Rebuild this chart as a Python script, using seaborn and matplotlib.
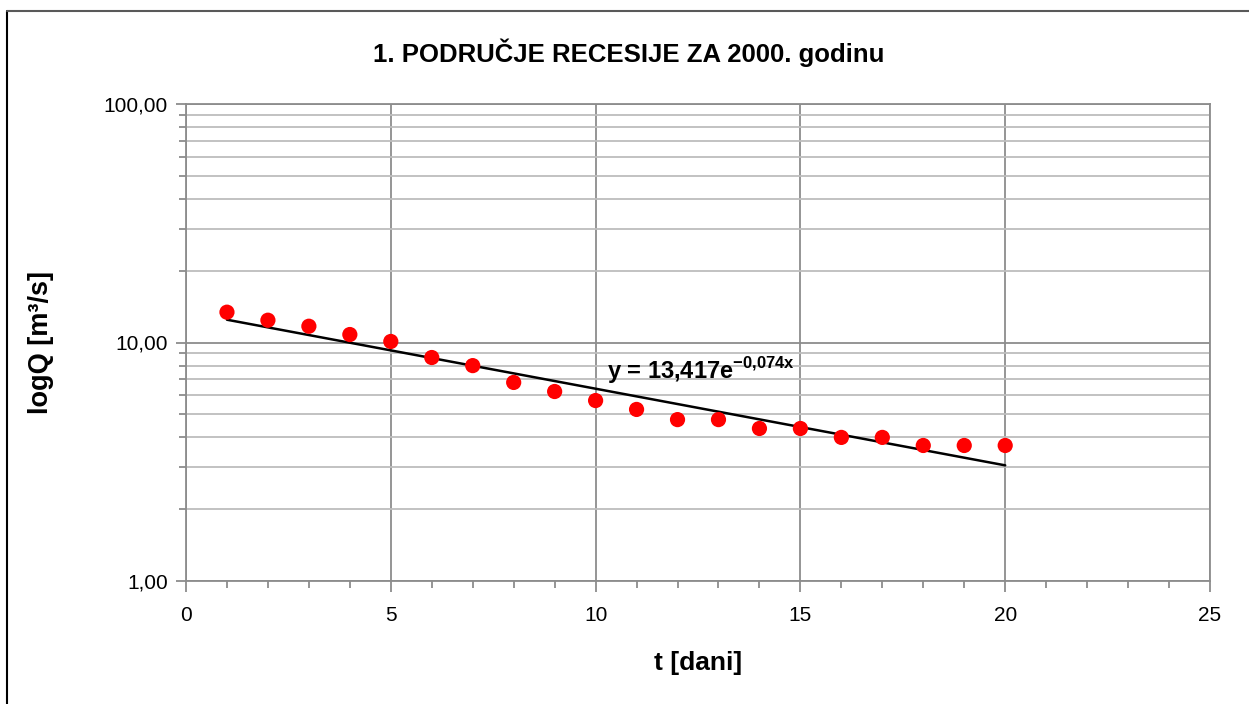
import numpy as np
import pandas as pd
import matplotlib
matplotlib.use("Agg")
import matplotlib.pyplot as plt
from matplotlib.lines import Line2D
from matplotlib.ticker import FixedLocator, LogLocator, NullFormatter, FuncFormatter
import seaborn as sns

# data
t_dani = [1, 2, 3, 4, 5, 6, 7, 8, 9, 10, 11, 12, 13, 14, 15, 16, 17, 18, 19, 20]
q_vals = [13.4, 12.4, 11.7, 10.8, 10.1, 8.65, 8.0, 6.8, 6.23, 5.71,
          5.24, 4.75, 4.75, 4.36, 4.36, 4.0, 4.0, 3.7, 3.7, 3.7]

# exponential trendline shown on the chart
trend_a = 13.417
trend_b = -0.074
trend_x = [1, 20]

title = "1. PODRUČJE RECESIJE ZA 2000. godinu"
x_label = "t [dani]"
y_label = "logQ [m³/s]"
x_ticks = [0, 5, 10, 15, 20, 25]
y_ticks = [1, 10, 100]

sns.set_style("white")
plt.rcParams['font.family'] = ['Liberation Sans', 'DejaVu Sans']
plt.rcParams['mathtext.fontset'] = 'custom'
plt.rcParams['mathtext.rm'] = 'Liberation Sans'
plt.rcParams['mathtext.bf'] = 'Liberation Sans:bold'
plt.rcParams['text.color'] = 'black'
plt.rcParams['axes.labelcolor'] = 'black'
plt.rcParams['xtick.color'] = 'black'
plt.rcParams['ytick.color'] = 'black'

df = pd.DataFrame({"t": t_dani, "Q": q_vals})
trend_df = pd.DataFrame({"t": np.linspace(trend_x[0], trend_x[1], 50)})
trend_df["Q"] = trend_a * np.exp(trend_b * trend_df["t"])

fig = plt.figure(figsize=(12.49, 7.04), dpi=100)
ax = fig.add_axes([186 / 1249, 1 - 581 / 704, (1210 - 186) / 1249, (581 - 104) / 704])

ax.set_yscale("log")
ax.set_xlim(0, 25)
ax.set_ylim(1, 100)

# grid
ax.yaxis.set_major_locator(FixedLocator(y_ticks))
ax.yaxis.set_minor_locator(LogLocator(base=10, subs=np.arange(2, 10)))
ax.yaxis.set_minor_formatter(NullFormatter())
ax.yaxis.set_major_formatter(FuncFormatter(lambda v, p: f"{v:.2f}".replace(".", ",")))
ax.xaxis.set_major_locator(FixedLocator(x_ticks))
ax.xaxis.set_minor_locator(FixedLocator(range(0, 26)))
ax.grid(which="major", axis="both", color="#8c8c8c", linewidth=1.3)
ax.grid(which="minor", axis="y", color="#bdbdbd", linewidth=1.3)
ax.set_axisbelow(True)

sns.lineplot(data=trend_df, x="t", y="Q", color="black", linewidth=1.8, ax=ax, zorder=3)
sns.scatterplot(data=df, x="t", y="Q", color="#ff0000", s=120, edgecolor="none", ax=ax, zorder=4)

for side in ["top", "right", "left", "bottom"]:
    ax.spines[side].set_color("#8c8c8c")
    ax.spines[side].set_linewidth(1.3)

ax.tick_params(axis="both", which="both", direction="out", color="#8c8c8c", width=1.3,
               bottom=True, left=True, top=False, right=False, labelcolor="black")
ax.tick_params(axis="x", which="major", length=8, labelsize=15, pad=10)
ax.tick_params(axis="x", which="minor", length=5)
ax.tick_params(axis="y", which="major", length=7, labelsize=15, pad=6)
ax.tick_params(axis="y", which="minor", length=5)

ax.set_xlabel(x_label, fontsize=19, fontweight="bold", labelpad=19, color="black")
ax.set_ylabel(y_label, fontsize=19.5, fontweight="bold", labelpad=36, color="black")

fig.text(629 / 1249, 1 - 53 / 704, title, ha="center", va="center",
         fontsize=18.5, fontweight="bold", color="black")

eq = r"y = 13,417e$^{\mathbf{-0{,}074x}}$"
ax.text(10.28, 7.6, eq, fontsize=17, fontweight="bold", ha="left", va="center", color="black")

# chart frame
fig.add_artist(Line2D([7 / 1249, 7 / 1249], [0, 1 - 11 / 704], color="black", linewidth=1.5))
fig.add_artist(Line2D([7 / 1249, 1], [1 - 11 / 704, 1 - 11 / 704], color="#595959", linewidth=1.5))

fig.savefig("out.png", dpi=100)
